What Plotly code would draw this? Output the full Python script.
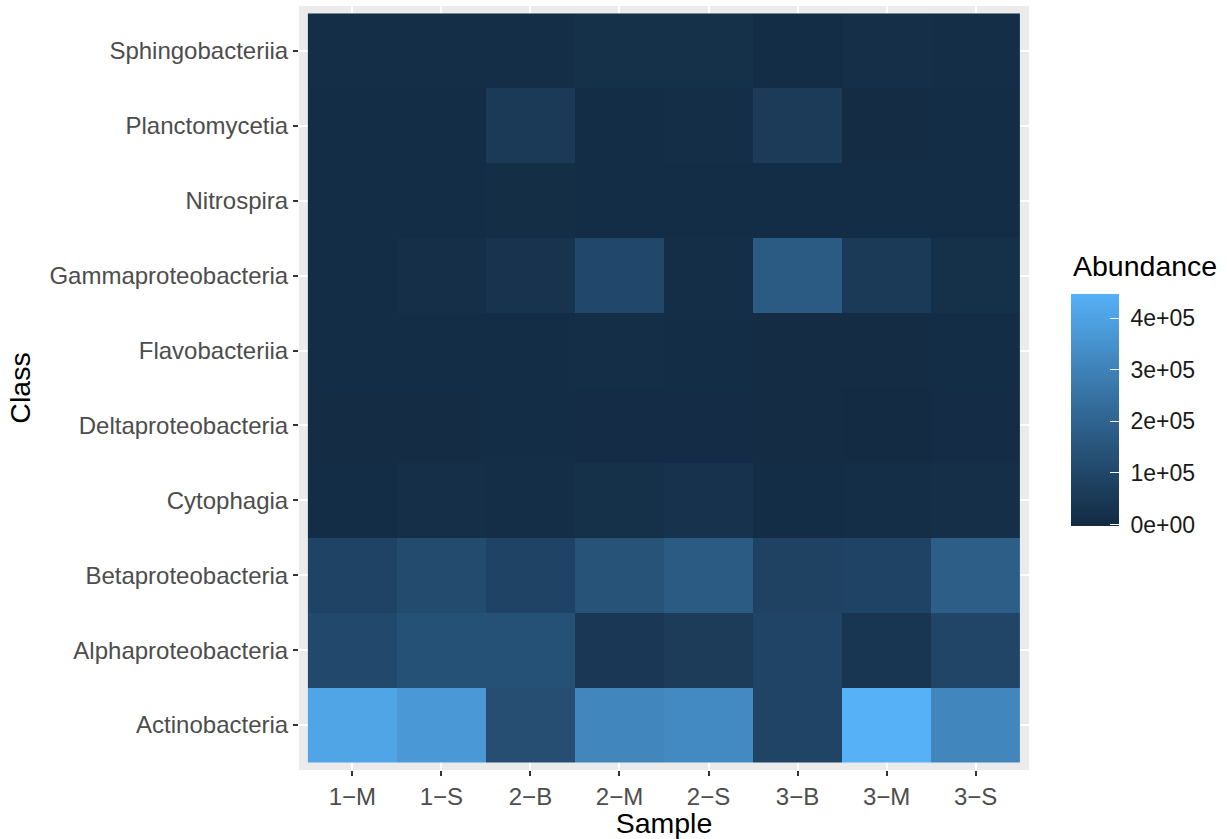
import numpy as np
import plotly.graph_objects as go

samples = ["1\u2212M", "1\u2212S", "2\u2212B", "2\u2212M", "2\u2212S", "3\u2212B", "3\u2212M", "3\u2212S"]
classes = ["Actinobacteria", "Alphaproteobacteria", "Betaproteobacteria", "Cytophagia",
           "Deltaproteobacteria", "Flavobacteriia", "Gammaproteobacteria", "Nitrospira",
           "Planctomycetia", "Sphingobacteriia"]

actinobacteria      = [410000, 370000, 125000, 315000, 325000, 90000, 447000, 312000]
alphaproteobacteria = [106000, 134000, 135000, 47000, 61000, 90000, 35000, 95000]
betaproteobacteria  = [86000, 115000, 86000, 145000, 170000, 84000, 86000, 180000]
cytophagia          = [6000, 11000, 8000, 15000, 24000, 5000, 9000, 11000]
deltaproteobacteria = [3000, 3000, 5000, 1500, 1500, 1000, 500, 1500]
flavobacteriia      = [5000, 5000, 6000, 8000, 5000, 4000, 4000, 5000]
gammaproteobacteria = [5000, 12000, 27000, 105000, 10000, 169000, 55000, 15000]
nitrospira          = [5000, 6000, 7000, 6000, 6000, 6000, 6000, 6000]
planctomycetia      = [5000, 6000, 55000, 5000, 10000, 56000, 4000, 6000]
sphingobacteriia    = [8000, 8000, 8000, 15000, 15000, 5000, 12000, 8000]

z = [actinobacteria, alphaproteobacteria, betaproteobacteria, cytophagia,
     deltaproteobacteria, flavobacteriia, gammaproteobacteria, nitrospira,
     planctomycetia, sphingobacteriia]

legend_ticks = [0, 100000, 200000, 300000, 400000]
legend_labels = ["0e+00", "1e+05", "2e+05", "3e+05", "4e+05"]


# ---- gradient #132B43 -> #56B1F7 interpolated in CIELAB ----
def srgb_to_lin(c):
    c = c / 255.0
    return np.where(c <= 0.04045, c / 12.92, ((c + 0.055) / 1.055) ** 2.4)

def lin_to_srgb(c):
    c = np.clip(c, 0, 1)
    v = np.where(c <= 0.0031308, 12.92 * c, 1.055 * c ** (1 / 2.4) - 0.055)
    return np.clip(np.round(v * 255), 0, 255).astype(int)

M = np.array([[0.4124, 0.3576, 0.1805], [0.2126, 0.7152, 0.0722], [0.0193, 0.1192, 0.9505]])
Minv = np.linalg.inv(M)
WHITE = np.array([0.95047, 1.0, 1.08883])

def f(t):
    d = 6 / 29
    return np.where(t > d ** 3, np.cbrt(t), t / (3 * d * d) + 4 / 29)

def finv(t):
    d = 6 / 29
    return np.where(t > d, t ** 3, 3 * d * d * (t - 4 / 29))

def hex_to_lab(h):
    rgb = np.array([int(h[i:i + 2], 16) for i in (1, 3, 5)], dtype=float)
    xyz = M @ srgb_to_lin(rgb) / WHITE
    fx, fy, fz = f(xyz)
    return np.array([116 * fy - 16, 500 * (fx - fy), 200 * (fy - fz)])

def lab_to_rgb(lab):
    L, a, b = lab
    fy = (L + 16) / 116
    xyz = np.array([finv(fy + a / 500), finv(fy), finv(fy - b / 200)]) * WHITE
    return lin_to_srgb(Minv @ xyz)

lo, hi = hex_to_lab("#132B43"), hex_to_lab("#56B1F7")
colorscale = []
for t in np.linspace(0, 1, 31):
    r, g, b = lab_to_rgb(lo + (hi - lo) * t)
    colorscale.append([float(t), f"rgb({r},{g},{b})"])

FONT = "Liberation Sans, Arial, sans-serif"
TICK_SIZE = 24
TITLE_SIZE = 28.5

z_max = max(max(row) for row in z)

fig = go.Figure(go.Heatmap(
    x=samples, y=classes, z=z,
    colorscale=colorscale, zmin=-3000, zmax=z_max, zauto=False,
    xgap=0, ygap=0,
    colorbar=dict(
        tickvals=legend_ticks,
        ticktext=["\u00a0" + s for s in legend_labels],
        tickfont=dict(size=23, color="#1A1A1A", family=FONT),
        ticks="inside", ticklen=9, tickcolor="white", tickwidth=1,
        outlinewidth=0,
        thickness=48, thicknessmode="pixels",
        len=232, lenmode="pixels",
        x=1.0575, xanchor="left", xpad=0,
        y=0.4712, yanchor="middle", ypad=0,
    ),
))

# legend title above the colour bar
fig.add_annotation(
    text="Abundance", xref="paper", yref="paper",
    x=1.0575, y=(770 - 284) / 764, xanchor="left", yanchor="bottom",
    showarrow=False, font=dict(size=TITLE_SIZE, color="#000000", family=FONT),
)

fig.update_layout(
    width=1227, height=839,
    margin=dict(l=299, r=198, t=6, b=69),
    paper_bgcolor="white",
    plot_bgcolor="#EBEBEB",
    font=dict(family=FONT),
    xaxis=dict(
        title=dict(text="Sample", font=dict(size=TITLE_SIZE, color="#000000"), standoff=2),
        range=[-0.6, 7.6], showgrid=True, gridcolor="white", gridwidth=1.5,
        zeroline=False, ticks="outside", ticklen=5, tickcolor="#333333", tickwidth=1.5,
        tickfont=dict(size=TICK_SIZE, color="#4D4D4D"), showline=False, fixedrange=True,
    ),
    yaxis=dict(
        title=dict(text="Class", font=dict(size=TITLE_SIZE, color="#000000"), standoff=10),
        range=[-0.6, 9.6], showgrid=True, gridcolor="white", gridwidth=1.5,
        zeroline=False, ticks="outside", ticklen=5, tickcolor="#333333", tickwidth=1.5,
        tickfont=dict(size=TICK_SIZE, color="#4D4D4D"), showline=False, fixedrange=True,
    ),
)

fig.write_html("out.html")
